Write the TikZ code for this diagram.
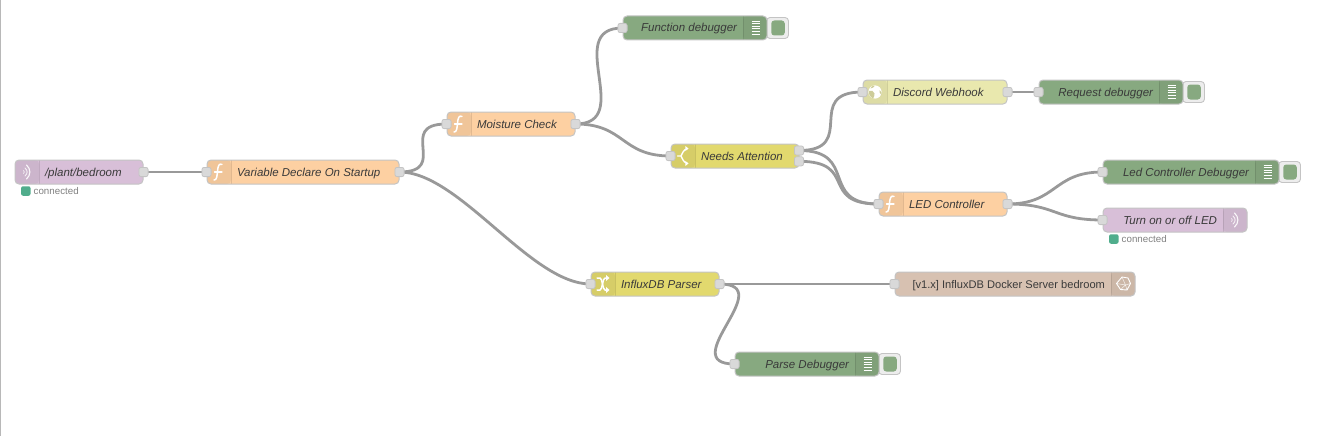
\documentclass[tikz,border=0pt]{standalone}
\usepackage{fontspec}
\setmainfont{Liberation Sans}
\usetikzlibrary{backgrounds}
\definecolor{cplant}{HTML}{D8BFD8}
\definecolor{cfunc}{HTML}{FDD0A2}
\definecolor{cdebug}{HTML}{87A980}
\definecolor{cswitch}{HTML}{E2D96E}
\definecolor{cweb}{HTML}{E9E8AE}
\definecolor{cinflux}{HTML}{D7C1B1}
\definecolor{cedge}{HTML}{C4C4C4}
\definecolor{cwire}{HTML}{999999}
\definecolor{cport}{HTML}{D9D9D9}
\definecolor{cstatus}{HTML}{50AD8C}
\definecolor{ctext}{HTML}{3A3A3A}
\tikzset{
  flowbase/.style={draw=cedge,line width=1pt,rounded corners=4pt,inner xsep=0pt,inner ysep=0pt,
    text width=#1 pt,minimum height=24pt,text height=10pt,text depth=2pt,text=ctext,
    font=\fontsize{11.5}{13}\selectfont\itshape},
  iconleft/.style={flowbase=#1,align=flush left,execute at begin node={\hspace*{30pt}},
    path picture={
      \fill[black,opacity=.05] (path picture bounding box.north west) rectangle ++(24,24);
      \draw[black,opacity=.1,line width=.8pt] ([xshift=24pt]path picture bounding box.north west) -- ++(0,24);}},
  iconright/.style={flowbase=#1,align=flush right,execute at end node={\hspace*{30pt}},
    path picture={
      \fill[black,opacity=.05] (path picture bounding box.north east) rectangle ++(-24,24);
      \draw[black,opacity=.1,line width=.8pt] ([xshift=-24pt]path picture bounding box.north east) -- ++(0,24);}},
  portbox/.style={draw=cedge,fill=cport,line width=.8pt,rounded corners=2.2pt,minimum size=9.2pt,inner sep=0pt},
  wire/.style={draw=cwire,line width=2.8pt},
  btnouter/.style={draw=cedge,fill=white!93!black,line width=.9pt,rounded corners=3.5pt,minimum width=22pt,minimum height=21pt,inner sep=0pt},
  btninner/.style={fill=cdebug,rounded corners=3pt,minimum width=13.5pt,minimum height=15pt,inner sep=0pt},
  statdot/.style={fill=cstatus,rounded corners=2pt,minimum size=9.5pt,inner sep=0pt},
  stattext/.style={anchor=west,inner sep=0pt,text=black!50,font=\fontsize{9.75}{11}\selectfont},
  iconline/.style={draw=white,line width=1pt,line cap=round,line join=round},
}
\newcommand{\iconfunc}[1]{\begin{scope}[shift={(#1.west)}]
  \draw[iconline,line width=1.5pt] (15.5,-7.5) .. controls (12.5,-9) and (11.5,-6) .. (11,-1)
     .. controls (10.6,3) and (10.5,8.5) .. (7.5,8);
  \draw[iconline,line width=1.1pt] (8,0) -- (15.5,0);
\end{scope}}
\newcommand{\iconwave}[1]{\begin{scope}[shift={(#1)}]
  \draw[iconline,line width=1.1pt,opacity=.9] (-.5,-7) .. controls (4,-3) and (4,3) .. (-.5,7);
  \draw[iconline,line width=.9pt,opacity=.8] (-2,-4) .. controls (.8,-1.5) and (.8,1.5) .. (-2,4);
  \draw[iconline,line width=.8pt,opacity=.7] (-3.5,-1.5) .. controls (-2.4,-.5) and (-2.4,.5) .. (-3.5,1.5);
\end{scope}}
\newcommand{\icondebug}[1]{\begin{scope}[shift={(#1.east)}]
  \foreach \yy in {-7,-4.4,-1.8,.8,3.4,6}{\draw[white,line width=.9pt] (-16,\yy) -- (-8,\yy);}
\end{scope}}
\newcommand{\iconswitch}[1]{\begin{scope}[shift={(#1.west)}]
  \draw[iconline,line width=1.4pt] (7,0) -- (10.5,0) (16.5,-7) .. controls (13,-6.5) and (12,-3) .. (10.5,0)
    .. controls (12,3) and (13,6.5) .. (16.5,7);
  \fill[white] (18,-7.5) -- (14.8,-10) -- (14.8,-5) -- cycle (18,7.5) -- (14.8,10) -- (14.8,5) -- cycle;
\end{scope}}
\newcommand{\iconchange}[1]{\begin{scope}[shift={(#1.west)}]
  \draw[iconline,line width=1.5pt] (6.5,-6) -- (9.5,-6) .. controls (12,-6) and (12,6) .. (14.5,6) -- (16,6);
  \draw[iconline,line width=1.5pt] (6.5,6) -- (9.5,6) .. controls (12,6) and (12,-6) .. (14.5,-6) -- (16,-6);
  \fill[white] (19,-6) -- (15.5,-9) -- (15.5,-3) -- cycle (19,6) -- (15.5,9) -- (15.5,3) -- cycle;
\end{scope}}
\newcommand{\iconglobe}[1]{\begin{scope}[shift={(#1.west)}]
  \fill[white] (12.5,0) circle (6.6);
  \fill[cweb!88!black] (6.5,-1) .. controls (9,-2.5) and (11,-1) .. (12,1.5) .. controls (11.5,3) and (12,6) .. (10.5,6.5)
     .. controls (8,5.5) and (6,3) .. (6.5,-1) -- cycle;
  \fill[cweb!88!black] (17,-2) .. controls (18.5,-1) and (19.5,1) .. (19,3) .. controls (17.5,1.5) and (16.5,0) .. (17,-2) -- cycle;
  \fill[cweb!88!black] (10,-6) .. controls (9,-5) and (8,-4) .. (8,-3.5) .. controls (10,-4) and (11,-4.5) .. (12,-6) -- cycle;
\end{scope}}
\newcommand{\iconinflux}[1]{\begin{scope}[shift={(#1.east)}]
  \draw[iconline,line width=.9pt] (-13.5,-7) -- (-7.5,-6) -- (-5,-.5) -- (-8.5,6) -- (-15,5.5) -- (-19,-.5) -- cycle;
  \draw[white,line width=.5pt,opacity=.8] (-13.5,-7) -- (-10,1) -- (-15,5.5) (-19,-.5) -- (-10,1) -- (-8.5,6) (-10,1) -- (-5,-.5);
\end{scope}}
\newcommand{\debugbutton}[3]{%
  \node[btnouter] (#1o) at (#2,#3) {};
  \node[btninner] (#1i) at (#2+.5,#3) {};}
\begin{document}
\begin{tikzpicture}[x=1pt,y=-1pt]
\useasboundingbox (0,0) rectangle (1337,436);
\fill[black!28] (0,0) rectangle (1.4,436);

% debug buttons (behind their nodes)
\debugbutton{bfn}{777.5}{28}
\debugbutton{breq}{1193.5}{92}
\debugbutton{bled}{1289.5}{172}
\debugbutton{bparse}{889.5}{364}

% flow nodes
\node[iconleft=128,fill=cplant] (plant) at (79,172) {/plant/bedroom};
\node[iconleft=192,fill=cfunc] (vars) at (303,172) {Variable Declare On Startup};
\node[iconleft=128,fill=cfunc] (moist) at (511,124) {Moisture Check};
\node[iconright=144,fill=cdebug] (fndbg) at (695,28) {Function debugger};
\node[iconleft=128,fill=cswitch] (needs) at (735,156) {Needs Attention};
\node[iconleft=144,fill=cweb] (disc) at (935,92) {Discord Webhook};
\node[iconright=144,fill=cdebug] (reqdbg) at (1111,92) {Request debugger};
\node[iconleft=128,fill=cfunc] (ledc) at (943,204) {LED Controller};
\node[iconright=176,fill=cdebug] (leddbg) at (1191,172) {Led Controller Debugger};
\node[iconright=144,fill=cplant] (turn) at (1175,220) {Turn on or off LED};
\node[iconleft=128,fill=cswitch] (parser) at (655,284) {InfluxDB Parser};
\node[iconright=240,fill=cinflux,font=\fontsize{11.1}{13}\selectfont] (influx) at (1015,284) {[v1.x] InfluxDB Docker Server bedroom};
\node[iconright=144,fill=cdebug] (parsedbg) at (807,364) {Parse Debugger};

% icons
\coordinate (wavea) at (27,172);
\coordinate (waveb) at (1235,220);
\iconwave{wavea}
\iconwave{waveb}
\iconfunc{vars}
\iconfunc{moist}
\iconfunc{ledc}
\iconswitch{needs}
\iconchange{parser}
\iconglobe{disc}
\icondebug{fndbg}
\icondebug{reqdbg}
\icondebug{leddbg}
\icondebug{parsedbg}
\iconinflux{influx}

% status
\node[statdot] (st1) at (25.8,191) {};
\node[stattext] (st1t) at (33.5,191) {connected};
\node[statdot] (st2) at (1113.8,239) {};
\node[stattext] (st2t) at (1121.5,239) {connected};

% ports
\node[portbox] (plantO) at (plant.east) {};
\node[portbox] (varsI) at (vars.west) {};
\node[portbox] (varsO) at (vars.east) {};
\node[portbox] (moistI) at (moist.west) {};
\node[portbox] (moistO) at (moist.east) {};
\node[portbox] (fnI) at (fndbg.west) {};
\node[portbox] (needsI) at (needs.west) {};
\node[portbox] (needsA) at (799,150.5) {};
\node[portbox] (needsB) at (799,161.3) {};
\node[portbox] (discI) at (disc.west) {};
\node[portbox] (discO) at (disc.east) {};
\node[portbox] (reqI) at (reqdbg.west) {};
\node[portbox] (ledI) at (ledc.west) {};
\node[portbox] (ledO) at (ledc.east) {};
\node[portbox] (leddI) at (leddbg.west) {};
\node[portbox] (turnI) at (turn.west) {};
\node[portbox] (parserI) at (parser.west) {};
\node[portbox] (parserO) at (parser.east) {};
\node[portbox] (influxI) at (influx.west) {};
\node[portbox] (parsedI) at (parsedbg.west) {};

% wires
\begin{scope}[on background layer]
\draw[wire] (plantO.center) -- (varsI.center);
\draw[wire] (varsO.center) .. controls +(50.9,0) and +(-50.9,0) .. (moistI.center);
\draw[wire] (varsO.center) .. controls +(60,0) and +(-60,0) .. (parserI.center);
\draw[wire] (moistO.center) .. controls +(60,0) and +(-60,0) .. (fnI.center);
\draw[wire] (moistO.center) .. controls +(50,0) and +(-50,0) .. (needsI.center);
\draw[wire] (needsA.center) .. controls +(60,0) and +(-60,0) .. (discI.center);
\draw[wire] (needsA.center) .. controls +(60,0) and +(-60,0) .. (ledI.center);
\draw[wire] (needsB.center) .. controls +(60,0) and +(-60,0) .. (ledI.center);
\draw[wire] (discO.center) -- (reqI.center);
\draw[wire] (ledO.center) .. controls +(50,0) and +(-50,0) .. (leddI.center);
\draw[wire] (ledO.center) .. controls +(50,0) and +(-50,0) .. (turnI.center);
\draw[wire] (parserO.center) -- (influxI.center);
\draw[wire] (parserO.center) .. controls +(60,0) and +(-60,0) .. (parsedI.center);
\end{scope}
\end{tikzpicture}
\end{document}
